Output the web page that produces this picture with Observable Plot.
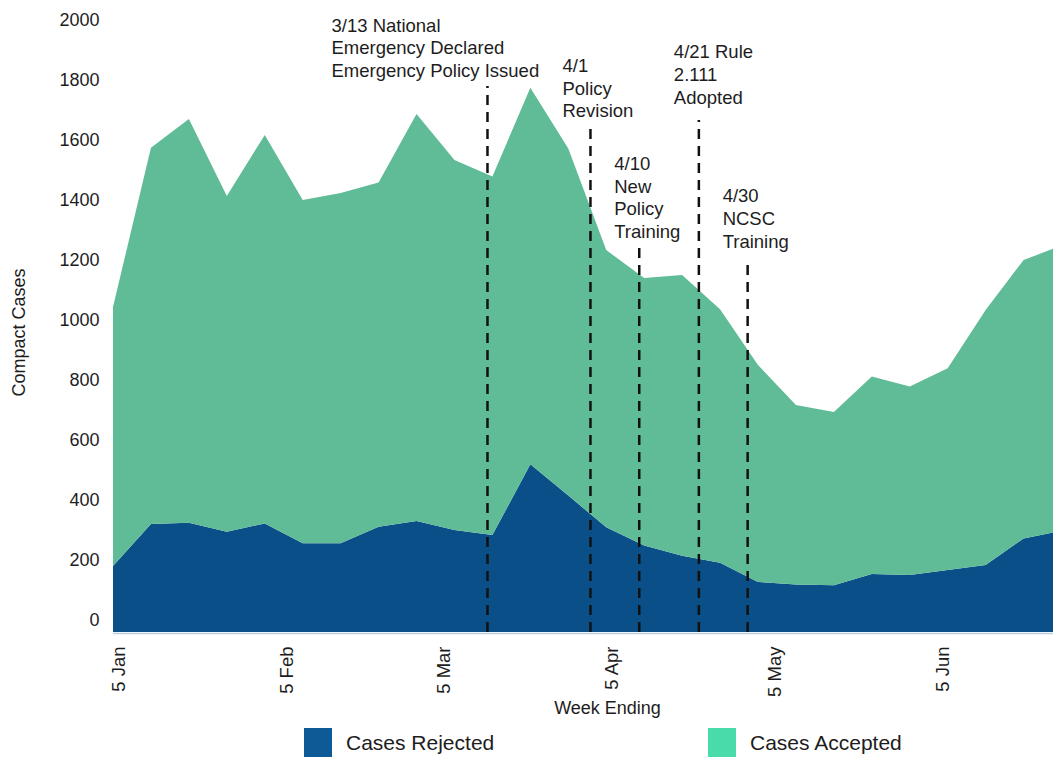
<!DOCTYPE html>
<html>
<head>
<meta charset="utf-8">
<script src="https://cdn.jsdelivr.net/npm/d3@7"></script>
<script src="https://cdn.jsdelivr.net/npm/@observablehq/plot@0.6"></script>
<style>
  html, body { margin: 0; padding: 0; background: #fff; }
  body { width: 1053px; height: 757px; position: relative; overflow: hidden; font-family: "Liberation Sans", Arial, Helvetica, sans-serif; color: #1d1d1d; }
  #chart { position: absolute; left: 0; top: 0; }
  .lg { position: absolute; top: 728px; height: 30px; display: flex; align-items: center; font-size: 21px; }
  .sw { width: 28px; height: 30px; margin-right: 14px; }
</style>
</head>
<body>
<div id="chart"></div>
<div class="lg" style="left:304px"><div class="sw" style="background:#0e5a96"></div><span>Cases Rejected</span></div>
<div class="lg" style="left:708px"><div class="sw" style="background:#49dbaa"></div><span>Cases Accepted</span></div>
<script>
// ---- data ----
const weekEnding = ["2020-01-04","2020-01-11","2020-01-18","2020-01-25","2020-02-01","2020-02-08","2020-02-15","2020-02-22","2020-02-29","2020-03-07","2020-03-14","2020-03-21","2020-03-28","2020-04-04","2020-04-11","2020-04-18","2020-04-25","2020-05-02","2020-05-09","2020-05-16","2020-05-23","2020-05-30","2020-06-06","2020-06-13","2020-06-20","2020-06-27"];
const casesRejected = [220,360,364,334,362,296,296,351,370,340,323,559,455,349,288,254,231,167,158,156,193,190,207,223,312,337];
const casesAccepted = [863,1254,1346,1119,1295,1144,1167,1147,1357,1233,1195,1255,1157,924,892,936,845,723,599,577,659,628,672,850,928,951];
const seriesNames = ["Cases Rejected","Cases Accepted"];
const yTicks = [0,200,400,600,800,1000,1200,1400,1600,1800,2000];
const xTicks = ["2020-01-05","2020-02-05","2020-03-05","2020-04-05","2020-05-05","2020-06-05"];
const eventDates = ["2020-03-13","2020-04-01","2020-04-10","2020-04-21","2020-04-30"];
const eventLabels = ["3/13 National\nEmergency Declared\nEmergency Policy Issued","4/1\nPolicy\nRevision","4/10\nNew\nPolicy\nTraining","4/21 Rule\n2.111\nAdopted","4/30\nNCSC\nTraining"];

// ---- annotation layout (value units / pixels) ----
const ruleTop = [1820,1677,1280,1707,1233];
const labelTop = [2056,1921,1594,1967,1487];
const labelDx = [-156,-28,-25,-25,-25];

const rows = [];
weekEnding.forEach((d, i) => {
  rows.push({date: new Date(d), series: seriesNames[0], value: casesRejected[i]});
  rows.push({date: new Date(d), series: seriesNames[1], value: casesAccepted[i]});
});
const events = eventDates.map((d, i) => ({date: new Date(d), label: eventLabels[i], top: labelTop[i], ruleTop: ruleTop[i]}));

const x0 = new Date("2020-01-04");
const x1 = new Date(+x0 + (1053 - 113) / 5.42 * 864e5);

const plot = Plot.plot({
  width: 1053,
  height: 725,
  marginLeft: 113,
  marginRight: 0,
  marginTop: 32,
  marginBottom: 93,
  style: {fontFamily: "'Liberation Sans', Arial, Helvetica, sans-serif", fontSize: "18px", color: "#1d1d1d", background: "white", overflow: "visible"},
  x: {type: "utc", domain: [x0, x1]},
  y: {domain: [0, 2000]},
  color: {domain: seriesNames, range: ["#0b4f88", "#60bb97"]},
  marks: [
    Plot.areaY(rows, Plot.stackY({x: "date", y: "value", z: "series", fill: "series", order: seriesNames, clip: true})),
    Plot.ruleY([0], {stroke: "#b9cde0", strokeWidth: 1.5, dy: 1}),
    Plot.ruleX(events, {x: "date", y1: 0, y2: "ruleTop", stroke: "#111", strokeWidth: 2.5, strokeDasharray: "10,7"}),
    ...events.map((e, i) => Plot.text([e], {x: "date", y: "top", text: "label", textAnchor: "start", lineAnchor: "top", lineHeight: 1.22, dx: labelDx[i], fontSize: 18.5, fill: "#1d1d1d"})),
    Plot.axisY({ticks: yTicks, tickFormat: d3.format("d"), tickSize: 0, tickPadding: 14, dy: -12, fontSize: 18, label: null}),
    Plot.axisX({ticks: xTicks.map(d => new Date(d)), tickFormat: d3.utcFormat("%-d %b"), tickRotate: -90, tickSize: 0, tickPadding: 14, fontSize: 18.5, label: null}),
    Plot.text(["Compact Cases"], {frameAnchor: "left", rotate: -90, textAnchor: "middle", lineAnchor: "middle", dx: -94, fontSize: 18, fill: "#1d1d1d"}),
    Plot.text(["Week Ending"], {frameAnchor: "bottom", textAnchor: "middle", lineAnchor: "middle", dx: 24, dy: 76, fontSize: 18, fill: "#1d1d1d"})
  ]
});
document.getElementById("chart").appendChild(plot);
</script>
</body>
</html>
